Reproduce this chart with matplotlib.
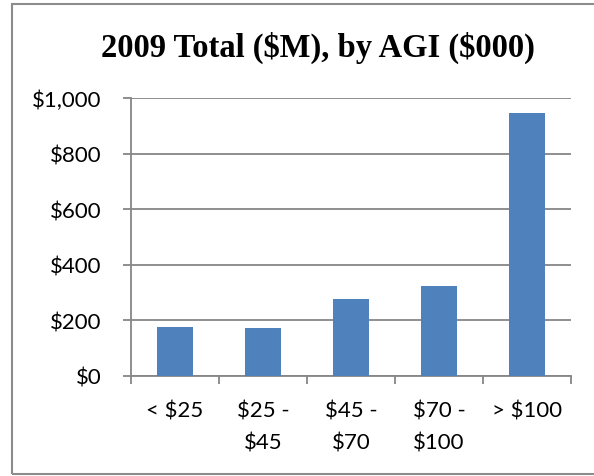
import matplotlib
matplotlib.use("Agg")
import matplotlib.pyplot as plt
from matplotlib.patches import Rectangle

categories = ["< \\$25", "\\$25 -\n\\$45", "\\$45 -\n\\$70", "\\$70 -\n\\$100", "> \\$100"]
values = [176, 173, 278, 323, 946]
yticks = [0, 200, 400, 600, 800, 1000]
ytick_labels = ["\\$0", "\\$200", "\\$400", "\\$600", "\\$800", "\\$1,000"]
title = "2009 Total (\\$M), by AGI (\\$000)"

W, H = 594, 477
fig = plt.figure(figsize=(W / 100, H / 100), dpi=100)
fig.patch.set_facecolor("white")

# outer chart frame
fig.add_artist(Rectangle((12 / W, 2 / H), (600 - 12) / W, (472 - 2) / H,
                         transform=fig.transFigure, fill=False,
                         edgecolor="#8c8c8c", linewidth=1.5, clip_on=False))

ax = fig.add_axes([131 / W, (H - 377) / H, (571 - 131) / W, (377 - 99) / H])
x = list(range(len(categories)))
ax.bar(x, values, width=0.4, color="#4F81BD", zorder=3)
ax.set_xlim(-0.5, len(categories) - 0.5)
ax.set_ylim(0, 1000)

grid_c = "#868686"
ax.set_yticks(yticks)
ax.set_yticklabels(ytick_labels)
ax.yaxis.grid(True, color=grid_c, linewidth=1.3, zorder=0)
ax.set_axisbelow(True)

ax.set_xticks([i - 0.5 for i in range(len(categories) + 1)], minor=False)
ax.set_xticklabels([])
ax.set_xticks(x, minor=True)
ax.set_xticklabels(categories, minor=True, fontsize=16, family="Lato",
                   linespacing=1.75)
ax.tick_params(axis="x", which="minor", length=0, pad=18)
ax.tick_params(axis="x", which="major", length=6, width=1.3, color=grid_c, direction="out")
ax.tick_params(axis="y", length=6, width=1.3, color=grid_c, direction="out", pad=15)
for lab in ax.get_yticklabels():
    lab.set_fontsize(16)
    lab.set_family("Lato")

for s in ["top", "right"]:
    ax.spines[s].set_visible(False)
for s in ["left", "bottom"]:
    ax.spines[s].set_color(grid_c)
    ax.spines[s].set_linewidth(1.3)

fig.text(318 / W, 1 - 48 / H, title, ha="center", va="center",
         fontsize=23.5, fontweight="bold", family="Liberation Serif")

fig.savefig("out.png", dpi=100)
